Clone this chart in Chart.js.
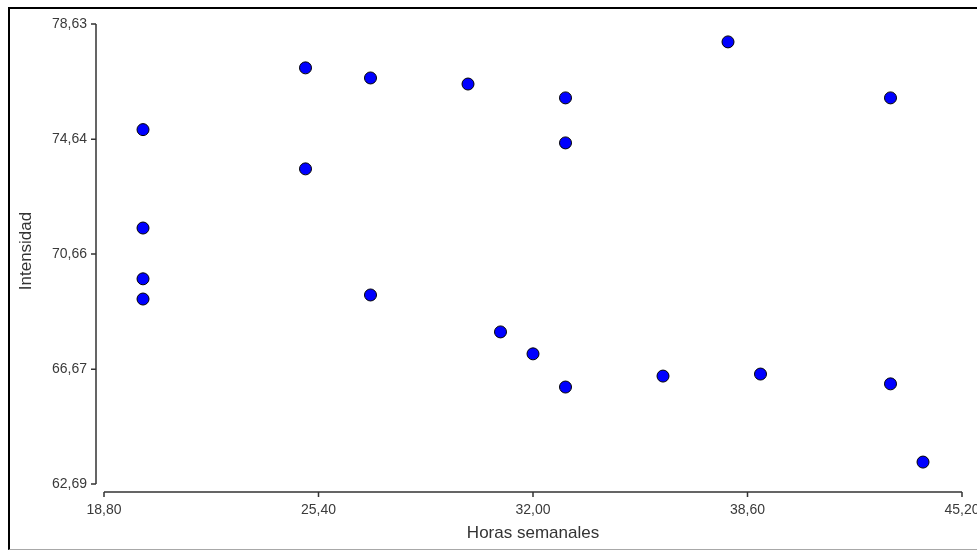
<!DOCTYPE html>
<html>
<head>
<meta charset="utf-8">
<script src="https://cdn.jsdelivr.net/npm/chart.js@4"></script>
<style>
  body { margin: 0; background: #fff; overflow: hidden; }
  #frame { position: absolute; left: 8px; top: 7px; width: 1000px; height: 540px;
           border-left: 2px solid #000; border-top: 2px solid #000; border-bottom: 1px solid #a8a8a8; }
  #chart { position: absolute; left: 0; top: 0; }
</style>
</head>
<body>
<div id="frame"></div>
<canvas id="chart" width="977" height="550"></canvas>
<script>
// valores
const horas = [20, 20, 20, 20, 25, 25, 27, 27, 30, 31, 32, 33, 33, 33, 36, 38, 39, 43, 43, 44]
const intensidad = [74.97, 71.56, 69.8, 69.1, 77.11, 73.61, 76.76, 69.24, 76.55, 67.96,
                    67.2, 76.07, 74.51, 66.05, 66.43, 78.01, 66.5, 76.07, 66.16, 63.45]
const xTicks = [18.80, 25.40, 32.00, 38.60, 45.20]
const yTicks = [62.69, 66.67, 70.66, 74.64, 78.63]
const xTitle = 'Horas semanales'
const yTitle = 'Intensidad'

const fmt = v => v.toFixed(2).replace('.', ',')

// ejes separados del area de datos (estilo SPSS)
const offsetAxes = {
  id: 'offsetAxes',
  afterDraw(chart) {
    const ctx = chart.ctx
    const xs = chart.scales.x, ys = chart.scales.y
    const area = chart.chartArea
    const yLineX = area.left - 8
    const xLineY = area.bottom + 8
    ctx.save()
    ctx.strokeStyle = '#333'
    ctx.lineWidth = 1.5
    ctx.fillStyle = '#3a3a3a'
    ctx.font = '14px "Liberation Sans", Arial, sans-serif'

    // eje y
    ctx.beginPath()
    ctx.moveTo(yLineX, ys.getPixelForValue(yTicks[0]))
    ctx.lineTo(yLineX, ys.getPixelForValue(yTicks[yTicks.length - 1]))
    yTicks.forEach(t => {
      const py = ys.getPixelForValue(t)
      ctx.moveTo(yLineX - 5, py)
      ctx.lineTo(yLineX, py)
    })
    ctx.stroke()
    ctx.textAlign = 'right'
    ctx.textBaseline = 'middle'
    yTicks.forEach(t => ctx.fillText(fmt(t), yLineX - 9, ys.getPixelForValue(t)))

    // eje x
    ctx.beginPath()
    ctx.moveTo(xs.getPixelForValue(xTicks[0]), xLineY)
    ctx.lineTo(xs.getPixelForValue(xTicks[xTicks.length - 1]), xLineY)
    xTicks.forEach(t => {
      const px = xs.getPixelForValue(t)
      ctx.moveTo(px, xLineY)
      ctx.lineTo(px, xLineY + 5)
    })
    ctx.stroke()
    ctx.textAlign = 'center'
    xTicks.forEach(t => ctx.fillText(fmt(t), xs.getPixelForValue(t), xLineY + 18))

    // titulos
    ctx.font = '17px "Liberation Sans", Arial, sans-serif'
    ctx.fillStyle = '#333'
    ctx.fillText(xTitle, (area.left + area.right) / 2, xLineY + 41)
    ctx.translate(26, (area.top + area.bottom) / 2 - 3)
    ctx.rotate(-Math.PI / 2)
    ctx.fillText(yTitle, 0, 0)
    ctx.restore()
  }
}

new Chart(document.getElementById('chart'), {
  type: 'scatter',
  data: {
    datasets: [{
      data: horas.map((h, i) => ({ x: h, y: intensidad[i] })),
      backgroundColor: '#0000ff',
      borderColor: '#000',
      borderWidth: 1,
      pointRadius: 6,
      pointHoverRadius: 6,
      clip: false
    }]
  },
  options: {
    responsive: false,
    animation: false,
    layout: { padding: { left: 104, right: 15, top: 24, bottom: 66 } },
    plugins: { legend: { display: false }, tooltip: { enabled: false } },
    scales: {
      x: {
        type: 'linear', display: false,
        min: xTicks[0], max: xTicks[xTicks.length - 1],
        afterBuildTicks: s => { s.ticks = xTicks.map(v => ({ value: v })) }
      },
      y: {
        type: 'linear', display: false,
        min: yTicks[0], max: yTicks[yTicks.length - 1],
        afterBuildTicks: s => { s.ticks = yTicks.map(v => ({ value: v })) }
      }
    }
  },
  plugins: [offsetAxes]
})
</script>
</body>
</html>
